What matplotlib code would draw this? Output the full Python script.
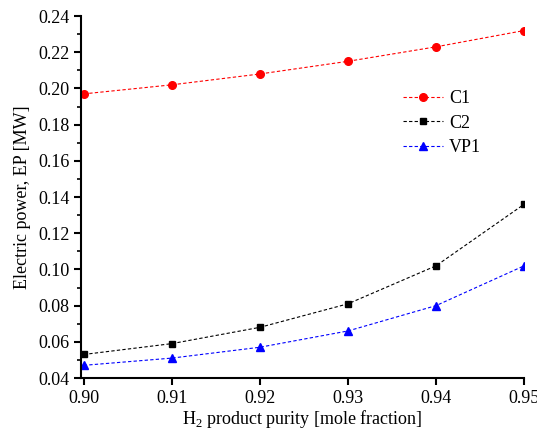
import numpy as np
import matplotlib.pyplot as plt
from matplotlib.ticker import MultipleLocator

# --- data ---
purity = [0.90, 0.91, 0.92, 0.93, 0.94, 0.95]
c1 = [0.197, 0.202, 0.208, 0.215, 0.223, 0.232]
c2 = [0.053, 0.059, 0.068, 0.081, 0.102, 0.136]
vp1 = [0.047, 0.051, 0.057, 0.066, 0.080, 0.102]

plt.rcParams['font.family'] = ['Liberation Serif', 'DejaVu Serif']
plt.rcParams['mathtext.fontset'] = 'custom'
plt.rcParams['mathtext.rm'] = 'Liberation Serif'

fig = plt.figure(figsize=(5.37, 4.34), dpi=100)
ax = fig.add_axes([0.151, 0.129, 0.825, 0.834])

ax.plot(purity, c1, color='red', ls=(0, (3, 2)), lw=0.8, marker='o', ms=5.5, label='C1')
ax.plot(purity, c2, color='black', ls=(0, (3, 2)), lw=0.8, marker='s', ms=4.5, label='C2')
ax.plot(purity, vp1, color='blue', ls=(0, (3, 2)), lw=0.8, marker='^', ms=6, label='VP1')

ax.set_xlim(0.8997, 0.95)
ax.set_ylim(0.04, 0.24)
ax.set_xticks(purity)
ax.set_xticklabels(['%.2f' % p for p in purity])
ax.yaxis.set_major_locator(MultipleLocator(0.02))
ax.yaxis.set_minor_locator(MultipleLocator(0.01))
ax.yaxis.set_major_formatter(plt.FormatStrFormatter('%.2f'))

for s in ['top', 'right']:
    ax.spines[s].set_visible(False)
for s in ['left', 'bottom']:
    ax.spines[s].set_linewidth(1.5)
ax.tick_params(which='major', direction='out', length=5, width=1.5, labelsize=13)
ax.tick_params(which='minor', direction='out', length=3, width=1.2)

ax.set_xlabel('H$_2$ product purity [mole fraction]', fontsize=13, labelpad=1)
ax.set_ylabel('Electric power, EP [MW]', fontsize=13, labelpad=5)

ax.legend(loc='upper left', bbox_to_anchor=(0.69, 0.84), frameon=False,
          fontsize=13, handlelength=2.2, handletextpad=0.35, labelspacing=0.42)

fig.savefig('out.png', dpi=100)
